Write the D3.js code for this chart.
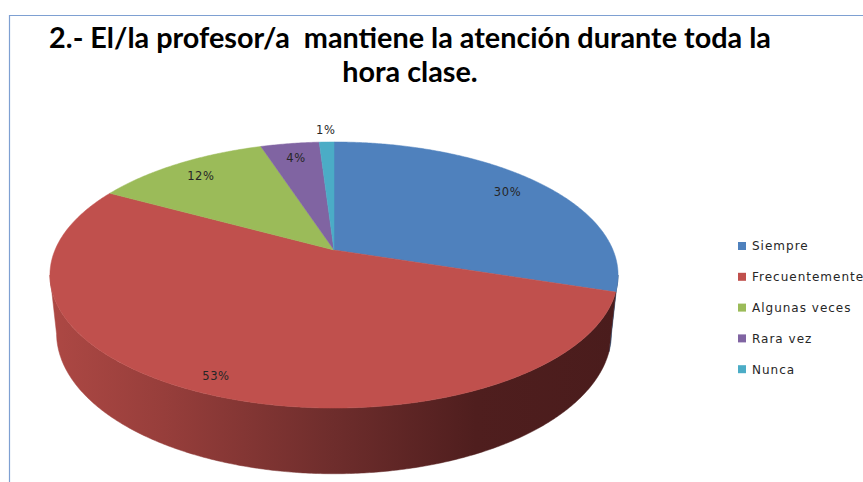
<!DOCTYPE html>
<html>
<head>
<meta charset="utf-8">
<script src="https://d3js.org/d3.v7.min.js"></script>
<style>
  html, body { margin: 0; padding: 0; background: #fff; }
  svg { display: block; }
</style>
</head>
<body>
<div id="chart"></div>
<script>
// datos del gráfico
const categorias = ["Siempre", "Frecuentemente", "Algunas veces", "Rara vez", "Nunca"];
const valores = [30, 53, 12, 4, 1];
const colores = ["#4f81bd", "#c0504d", "#9bbb59", "#8064a2", "#4bacc6"];
const colorLado = ["#28456a", null, "#56692f", "#45355a", "#266272"];
const tituloLineas = ["2.- El/la profesor/a  mantiene la atención durante toda la", "hora clase."];

const width = 863, height = 482;

const svg = d3.select("#chart").append("svg")
  .attr("width", width)
  .attr("height", height);

// marco del gráfico (sólo borde superior e izquierdo visibles)
svg.append("path")
  .attr("d", "M9.5,482 L9.5,15.5 L863,15.5")
  .attr("fill", "none")
  .attr("stroke", "#7ea0d2")
  .attr("stroke-width", 1.2);

// título
const titulo = svg.append("text")
  .attr("text-anchor", "middle")
  .style("font-family", "Lato, 'Open Sans', sans-serif")
  .style("font-weight", "bold")
  .style("font-size", "24px")
  .style("white-space", "pre")
  .attr("fill", "#000");
titulo.selectAll("tspan").data(tituloLineas).enter().append("tspan")
  .attr("x", 410)
  .attr("y", (d, i) => 48 + i * 34)
  .text(d => d);
// ajustar tamaño al ancho de la primera línea
const w0 = titulo.select("tspan").node().getComputedTextLength();
titulo.style("font-size", (24 * 722 / w0).toFixed(2) + "px");

// proyección en perspectiva del pastel 3D
const cx = 334, cy = 250;
const S = 279;            // escala horizontal
const sinA = 0.46, cosA = Math.sqrt(1 - sinA * sinA);
const k = 0.188 / cosA;   // radio relativo a la distancia de la cámara
const f = S / k;
const grosor = 0.05;

function proj(theta, r, bottom) {
  const X = k * r * Math.sin(theta);
  const Z = -k * r * Math.cos(theta);
  const Y = bottom ? -grosor : 0;
  const depth = 1 - Y * sinA - Z * cosA;
  const up = Y * cosA - Z * sinA;
  return [cx + f * X / depth, cy - f * up / depth];
}

const pie = d3.pie().sort(null).value(d => d)(valores);

const step = Math.PI / 360;
function arcPts(a0, a1, r, bottom) {
  const pts = [];
  const n = Math.max(2, Math.ceil((a1 - a0) / step));
  for (let i = 0; i <= n; i++) pts.push(proj(a0 + (a1 - a0) * i / n, r, bottom));
  return pts;
}
const line = d3.line();

// gradiente del lado rojo
const defs = svg.append("defs");
const grad = defs.append("linearGradient")
  .attr("id", "ladoRojo")
  .attr("gradientUnits", "userSpaceOnUse")
  .attr("x1", 50).attr("y1", 0).attr("x2", 618).attr("y2", 0);
[[0, "#ad4844"], [0.2, "#973e3b"], [0.5, "#6e2d2c"], [0.75, "#4f1e1e"], [1, "#4a1c1c"]]
  .forEach(s => grad.append("stop").attr("offset", s[0]).attr("stop-color", s[1]));

// rango visible del lado (frente)
const visA = Math.acos(-0.188), visB = 2 * Math.PI - visA;

const gLado = svg.append("g");
pie.forEach((p, i) => {
  const a0 = Math.max(p.startAngle, visA), a1 = Math.min(p.endAngle, visB);
  if (a1 <= a0) return;
  const pts = arcPts(a0, a1, 1, false).concat(arcPts(a0, a1, 1, true).reverse());
  const fill = colorLado[i] ? colorLado[i] : "url(#ladoRojo)";
  gLado.append("path")
    .attr("d", line(pts) + "Z")
    .attr("fill", fill)
    .attr("stroke", fill)
    .attr("stroke-width", 0.5);
});

// cara superior
const gTop = svg.append("g");
pie.forEach((p, i) => {
  const pts = [proj(0, 0, false)].concat(arcPts(p.startAngle, p.endAngle, 1, false));
  gTop.append("path")
    .attr("d", line(pts) + "Z")
    .attr("fill", colores[i])
    .attr("stroke", colores[i])
    .attr("stroke-width", 0.5);
});

// etiquetas de porcentaje
const fmt = d => d3.format(".0f")(d) + "%";
const total = d3.sum(valores);
pie.forEach((p, i) => {
  const mid = (p.startAngle + p.endAngle) / 2;
  const share = p.value / total;
  const r = share < 0.02 ? 1.13 : (share > 0.5 ? 0.9 : 0.84);
  const pt = proj(mid, r, false);
  svg.append("text")
    .attr("x", pt[0])
    .attr("y", pt[1])
    .attr("dy", "0.35em")
    .attr("text-anchor", "middle")
    .style("font-family", "'DejaVu Sans', Verdana, sans-serif")
    .style("font-size", "11.5px")
    .style("letter-spacing", "0.6px")
    .attr("fill", "#262626")
    .text(fmt(share * 100));
});

// leyenda
const leyenda = svg.append("g").attr("transform", "translate(738,242)");
const item = leyenda.selectAll("g").data(categorias).enter().append("g")
  .attr("transform", (d, i) => `translate(0,${i * 30.8})`);
item.append("rect")
  .attr("width", 8).attr("height", 8)
  .attr("fill", (d, i) => colores[i]);
item.append("text")
  .attr("x", 14)
  .attr("y", 4)
  .attr("dy", "0.36em")
  .style("font-family", "'DejaVu Sans', Verdana, sans-serif")
  .style("font-size", "12px")
  .style("letter-spacing", "1px")
  .attr("fill", "#262626")
  .text(d => d);
</script>
</body>
</html>
